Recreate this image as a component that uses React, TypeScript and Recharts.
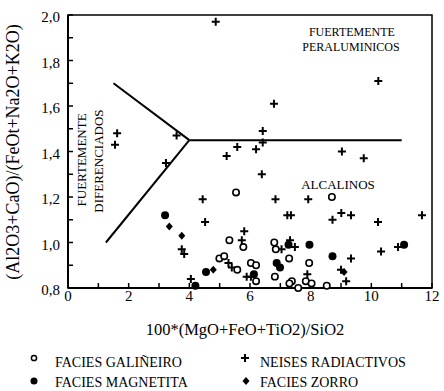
import React from "react"
import {
  ScatterChart,
  Scatter,
  XAxis,
  YAxis,
  ReferenceLine,
  ReferenceArea,
  ReferenceDot,
} from "recharts"

interface Pt {
  x: number
  y: number
}

const xTicks = [0, 1, 2, 3, 4, 5, 6, 7, 8, 9, 10, 11, 12]
const yTicks = [0.8, 0.9, 1.0, 1.1, 1.2, 1.3, 1.4, 1.5, 1.6, 1.7, 1.8, 1.9, 2.0]

const galineiro: Pt[] = [
  { x: 5.54, y: 1.22 }, { x: 8.7, y: 1.2 }, { x: 5.32, y: 1.01 }, { x: 5.78, y: 0.98 },
  { x: 4.99, y: 0.93 }, { x: 5.15, y: 0.94 }, { x: 5.58, y: 0.88 }, { x: 6.03, y: 0.91 },
  { x: 6.2, y: 0.9 }, { x: 6.2, y: 0.83 }, { x: 6.8, y: 1.0 }, { x: 6.85, y: 0.97 },
  { x: 7.29, y: 0.93 }, { x: 6.82, y: 0.85 }, { x: 7.95, y: 0.91 }, { x: 7.84, y: 0.83 },
  { x: 8.03, y: 0.82 }, { x: 8.53, y: 0.81 }, { x: 7.38, y: 0.83 }, { x: 7.3, y: 0.82 },
  { x: 7.59, y: 0.8 },
]

const magnetita: Pt[] = [
  { x: 3.2, y: 1.12 }, { x: 4.55, y: 0.87 }, { x: 4.2, y: 0.81 }, { x: 6.13, y: 0.86 },
  { x: 6.88, y: 0.91 }, { x: 6.99, y: 0.89 }, { x: 7.27, y: 0.99 }, { x: 7.96, y: 0.99 },
  { x: 8.72, y: 0.94 }, { x: 11.08, y: 0.99 },
]

const zorro: Pt[] = [
  { x: 3.34, y: 1.07 }, { x: 3.75, y: 1.03 }, { x: 4.79, y: 0.88 }, { x: 9.1, y: 0.87 },
]

const neises: Pt[] = [
  { x: 1.62, y: 1.48 }, { x: 1.55, y: 1.43 }, { x: 3.58, y: 1.47 }, { x: 3.23, y: 1.35 },
  { x: 4.87, y: 1.97 }, { x: 6.79, y: 1.61 }, { x: 6.42, y: 1.49 }, { x: 6.42, y: 1.44 },
  { x: 5.58, y: 1.42 }, { x: 6.2, y: 1.41 }, { x: 5.23, y: 1.38 }, { x: 9.03, y: 1.4 },
  { x: 9.75, y: 1.37 }, { x: 10.23, y: 1.71 }, { x: 6.39, y: 1.3 }, { x: 4.44, y: 1.19 },
  { x: 6.84, y: 1.19 }, { x: 7.92, y: 1.19 }, { x: 7.23, y: 1.12 }, { x: 7.35, y: 1.12 },
  { x: 8.72, y: 1.1 }, { x: 9.01, y: 1.13 }, { x: 9.33, y: 1.12 }, { x: 10.22, y: 1.09 },
  { x: 11.67, y: 1.12 }, { x: 4.52, y: 1.09 }, { x: 5.81, y: 1.05 }, { x: 5.73, y: 1.01 },
  { x: 7.32, y: 1.01 }, { x: 7.48, y: 0.98 }, { x: 7.04, y: 0.97 }, { x: 3.75, y: 0.97 },
  { x: 3.83, y: 0.95 }, { x: 5.29, y: 0.91 }, { x: 5.4, y: 0.89 }, { x: 5.89, y: 0.85 },
  { x: 4.05, y: 0.84 }, { x: 6.03, y: 0.85 }, { x: 7.89, y: 0.86 }, { x: 9.33, y: 0.93 },
  { x: 10.32, y: 0.96 }, { x: 10.88, y: 0.98 }, { x: 9.0, y: 0.88 }, { x: 9.17, y: 0.83 },
]

// field boundaries
const diferenciadosUpper: Pt[] = [{ x: 1.5, y: 1.7 }, { x: 4, y: 1.45 }]
const diferenciadosLower: Pt[] = [{ x: 1.25, y: 1.0 }, { x: 4, y: 1.45 }]
const peraluminicos: Pt[] = [{ x: 4, y: 1.45 }, { x: 11, y: 1.45 }]

const INK = "#000"

const OpenCircle = (p: any) => (
  <circle cx={p.cx} cy={p.cy} r={3.2} fill="#fff" stroke={INK} strokeWidth={1.6} />
)
const FilledCircle = (p: any) => <circle cx={p.cx} cy={p.cy} r={4} fill={INK} />
const Cross = (p: any) => (
  <path
    d={`M${p.cx - 4},${p.cy}H${p.cx + 4}M${p.cx},${p.cy - 4}V${p.cy + 4}`}
    stroke={INK}
    strokeWidth={2}
  />
)
const Diamond = (p: any) => (
  <path
    d={`M${p.cx},${p.cy - 4}L${p.cx + 3.5},${p.cy}L${p.cx},${p.cy + 4}L${p.cx - 3.5},${p.cy}Z`}
    fill={INK}
  />
)

const textLabel =
  (value: string, size: number, vertical = false) =>
  (p: any) =>
    (
      <text
        x={p.cx}
        y={p.cy}
        fontSize={size}
        fill={INK}
        textAnchor="middle"
        dominantBaseline="central"
        transform={vertical ? `rotate(-90 ${p.cx} ${p.cy})` : undefined}
      >
        {value}
      </text>
    )

const fmtY = (v: number) =>
  Math.round(v * 10) % 2 === 0 ? v.toFixed(1).replace(".", ",") : ""
const fmtX = (v: number) => (v % 2 === 0 ? String(v) : "")

export default function App() {
  return (
    <div
      style={{
        position: "absolute",
        left: 0,
        top: 0,
        width: 444,
        height: 391,
        background: "#fff",
        fontFamily: "'Liberation Serif', 'Times New Roman', serif",
        overflow: "hidden",
      }}
    >
      <ScatterChart width={444} height={391} margin={{ top: 15, right: 12, left: 8, bottom: 73 }}>
        <XAxis
          type="number"
          dataKey="x"
          domain={[0, 12]}
          ticks={xTicks}
          tickFormatter={fmtX}
          interval={0}
          height={30}
          axisLine={{ stroke: INK, strokeWidth: 2 }}
          tickLine={{ stroke: INK, strokeWidth: 1.5 }}
          tickSize={-5}
          tickMargin={7}
          tick={{ fill: INK, fontSize: 15 }}
          label={{
            content: () => (
              <text x={245} y={329} fontSize={16.5} fill={INK} textAnchor="middle" dominantBaseline="central">
                100*(MgO+FeO+TiO2)/SiO2
              </text>
            ),
          }}
        />
        <YAxis
          type="number"
          dataKey="y"
          domain={[0.8, 2.0]}
          ticks={yTicks}
          tickFormatter={fmtY}
          interval={0}
          width={60}
          axisLine={{ stroke: INK, strokeWidth: 2 }}
          tickLine={{ stroke: INK, strokeWidth: 1.5 }}
          tickSize={-5}
          tickMargin={13}
          tick={{ fill: INK, fontSize: 15, dy: 2 }}
          label={{
            content: () => (
              <text
                x={13}
                y={152}
                fontSize={18}
                fill={INK}
                textAnchor="middle"
                dominantBaseline="central"
                transform="rotate(-90 13 152)"
              >
                (Al2O3+CaO)/(FeOt+Na2O+K2O)
              </text>
            ),
          }}
        />
        <ReferenceArea x1={0} x2={12} y1={0.8} y2={2.0} fill="none" stroke={INK} strokeWidth={1.5} />
        <ReferenceLine segment={diferenciadosUpper} stroke={INK} strokeWidth={2} />
        <ReferenceLine segment={diferenciadosLower} stroke={INK} strokeWidth={2} />
        <ReferenceLine segment={peraluminicos} stroke={INK} strokeWidth={2} />

        <ReferenceDot x={9.36} y={1.925} r={0} shape={textLabel("FUERTEMENTE", 12)} />
        <ReferenceDot x={9.33} y={1.859} r={0} shape={textLabel("PERALUMINICOS", 12)} />
        <ReferenceDot x={8.9} y={1.257} r={0} shape={textLabel("ALCALINOS", 13)} />
        <ReferenceDot x={0.43} y={1.363} r={0} shape={textLabel("FUERTEMENTE", 13, true)} />
        <ReferenceDot x={0.99} y={1.358} r={0} shape={textLabel("DIFERENCIADOS", 13, true)} />

        <Scatter name="NEISES RADIACTIVOS" data={neises} shape={Cross} isAnimationActive={false} />
        <Scatter name="FACIES GALIÑEIRO" data={galineiro} shape={OpenCircle} isAnimationActive={false} />
        <Scatter name="FACIES MAGNETITA" data={magnetita} shape={FilledCircle} isAnimationActive={false} />
        <Scatter name="FACIES ZORRO" data={zorro} shape={Diamond} isAnimationActive={false} />
      </ScatterChart>

      <svg
        width={444}
        height={51}
        style={{ position: "absolute", left: 0, top: 340 }}
        fontSize={14}
        fill={INK}
      >
        <circle cx={34} cy={18} r={2.6} fill="#fff" stroke={INK} strokeWidth={1.5} />
        <text x={55} y={27}>FACIES GALIÑEIRO</text>
        <circle cx={34} cy={41} r={3.5} fill={INK} />
        <text x={55} y={47}>FACIES MAGNETITA</text>
        <path d="M241,18H249M245,14V22" stroke={INK} strokeWidth={2} />
        <text x={260} y={27}>NEISES RADIACTIVOS</text>
        <path d="M246,37L249.5,41L246,45L242.5,41Z" fill={INK} />
        <text x={260} y={47}>FACIES ZORRO</text>
      </svg>
    </div>
  )
}
